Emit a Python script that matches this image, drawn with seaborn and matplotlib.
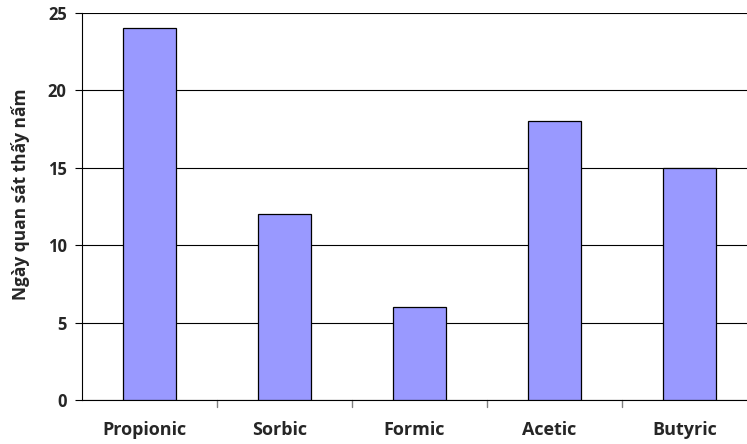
import matplotlib
matplotlib.use("Agg")
import matplotlib.pyplot as plt
import matplotlib.transforms as mtransforms
import seaborn as sns
import pandas as pd

categories = ["Propionic", "Sorbic", "Formic", "Acetic", "Butyric"]
days = [24, 12, 6, 18, 15]
y_ticks = [0, 5, 10, 15, 20, 25]
y_label = "Ngày quan sát thấy nấm"

sns.set_theme(style="white")
plt.rcParams["font.family"] = ["Open Sans", "DejaVu Sans"]
plt.rcParams["font.weight"] = "bold"

df = pd.DataFrame({"acid": categories, "days": days})

fig = plt.figure(figsize=(7.47, 4.44), dpi=100)
# plot area runs past the right edge of the figure
ax = fig.add_axes([82 / 747, 44 / 444, 675 / 747, 387 / 444])

sns.barplot(data=df, x="acid", y="days", color="#9999FF", width=0.39,
            edgecolor="black", linewidth=0.9, saturation=1, ax=ax, zorder=3)

ax.set_ylim(0, 25)
ax.set_xlim(-0.5, len(categories) - 0.5)
ax.set_yticks(y_ticks)
ax.yaxis.grid(True, color="black", linewidth=0.8, zorder=0)
ax.set_axisbelow(True)

ax.set_xticks(range(len(categories)))
ax.set_xticklabels(categories, fontsize=13, fontweight="bold")
ax.tick_params(axis="x", length=0, pad=15)
# nudge category labels slightly left
shift = mtransforms.ScaledTranslation(-5 / 100, 0, fig.dpi_scale_trans)
for lab in ax.get_xticklabels():
    lab.set_transform(lab.get_transform() + shift)
# separators between categories on the x axis
for b in [i + 0.5 for i in range(len(categories))]:
    ax.plot([b, b], [0, -0.018], transform=ax.get_xaxis_transform(),
            color="gray", linewidth=1, clip_on=False)

ax.tick_params(axis="y", length=5, width=0.8, color="black", direction="out",
               labelsize=12, left=True, pad=6)
for lab in ax.get_yticklabels():
    lab.set_fontweight("bold")

ax.set_xlabel("")
ax.set_ylabel(y_label, fontsize=12.5, fontweight="bold")
ax.yaxis.set_label_coords(-0.077, 0.532)

for side in ["top", "right"]:
    ax.spines[side].set_visible(False)
for side in ["left", "bottom"]:
    ax.spines[side].set_color("black")
    ax.spines[side].set_linewidth(0.8)

fig.savefig("out.png", dpi=100)
